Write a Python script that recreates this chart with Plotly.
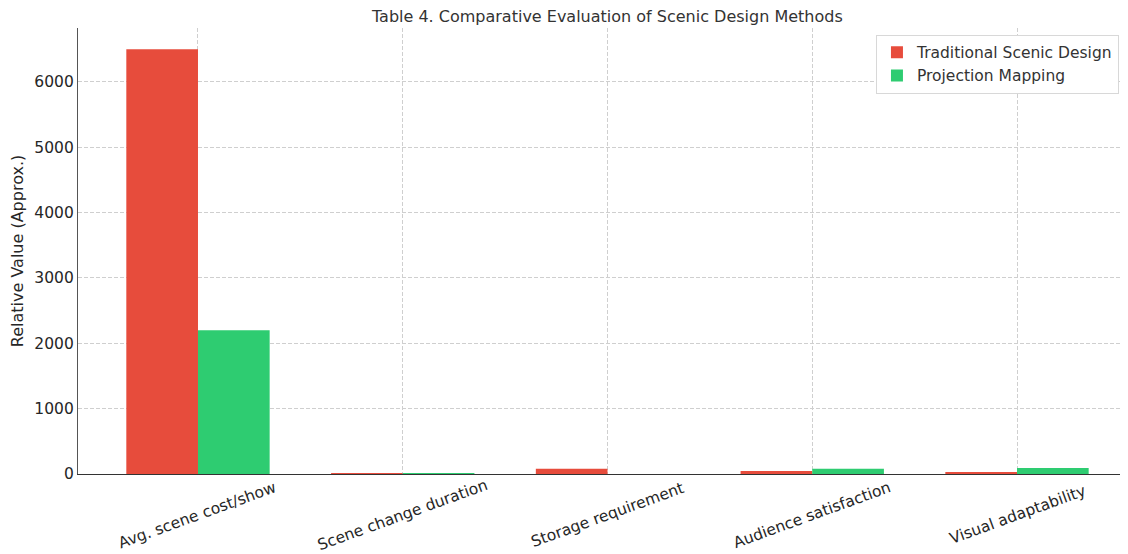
import plotly.graph_objects as go

categories = ["Avg. scene cost/show", "Scene change duration", "Storage requirement",
              "Audience satisfaction", "Visual adaptability"]
traditional = [6500, 12, 80, 45, 30]
projection = [2200, 1, 0, 82, 90]
series_names = ["Traditional Scenic Design", "Projection Mapping"]
y_ticks = [0, 1000, 2000, 3000, 4000, 5000, 6000]

idx = list(range(len(categories)))
text_color = "#262626"
font_family = "DejaVu Sans"
fs = 15.5

fig = go.Figure()
fig.add_trace(go.Bar(x=idx, y=traditional, name=series_names[0],
                     marker=dict(color="#e74c3c", line=dict(width=0))))
fig.add_trace(go.Bar(x=idx, y=projection, name=series_names[1],
                     marker=dict(color="#2ecc71", line=dict(width=0))))

for i, c in zip(idx, categories):
    fig.add_annotation(x=i, xref="x", y=0, yref="paper", yshift=-41,
                       text=c, textangle=-20, showarrow=False,
                       xanchor="center", yanchor="middle",
                       font=dict(family=font_family, size=fs, color=text_color))

grid_style = dict(showgrid=True, gridcolor="#cfcfcf", griddash="4px,2px", gridwidth=0.8)

fig.update_layout(
    width=1112, height=546,
    margin=dict(l=70, r=0, t=20, b=80),
    paper_bgcolor="white", plot_bgcolor="white",
    barmode="group", bargap=0.3, bargroupgap=0,
    title=dict(text="Table 4. Comparative Evaluation of Scenic Design Methods",
               x=0.539, xanchor="center", y=0.985, yanchor="middle",
               font=dict(family=font_family, size=16, color="#333333")),
    font=dict(family=font_family, size=fs, color=text_color),
    legend=dict(x=0.999, xanchor="right", y=0.985, yanchor="top",
                bgcolor="white", bordercolor="#d8d8d8", borderwidth=1,
                font=dict(family=font_family, size=fs, color="#333333")),
    xaxis=dict(range=[-0.586, 4.503], tickvals=idx, ticktext=["" for _ in idx],
               showline=True, linecolor="#333333", linewidth=1.2, ticks="",
               zeroline=False, **grid_style),
    yaxis=dict(range=[0, 6825], tickvals=y_ticks,
               showline=True, linecolor="#555555", linewidth=1.2, ticks="",
               zeroline=False,
               title=dict(text="Relative Value (Approx.)", standoff=7,
                          font=dict(family=font_family, size=16, color=text_color)),
               tickfont=dict(family=font_family, size=fs, color=text_color),
               **grid_style),
)

fig.write_html("out.html")
